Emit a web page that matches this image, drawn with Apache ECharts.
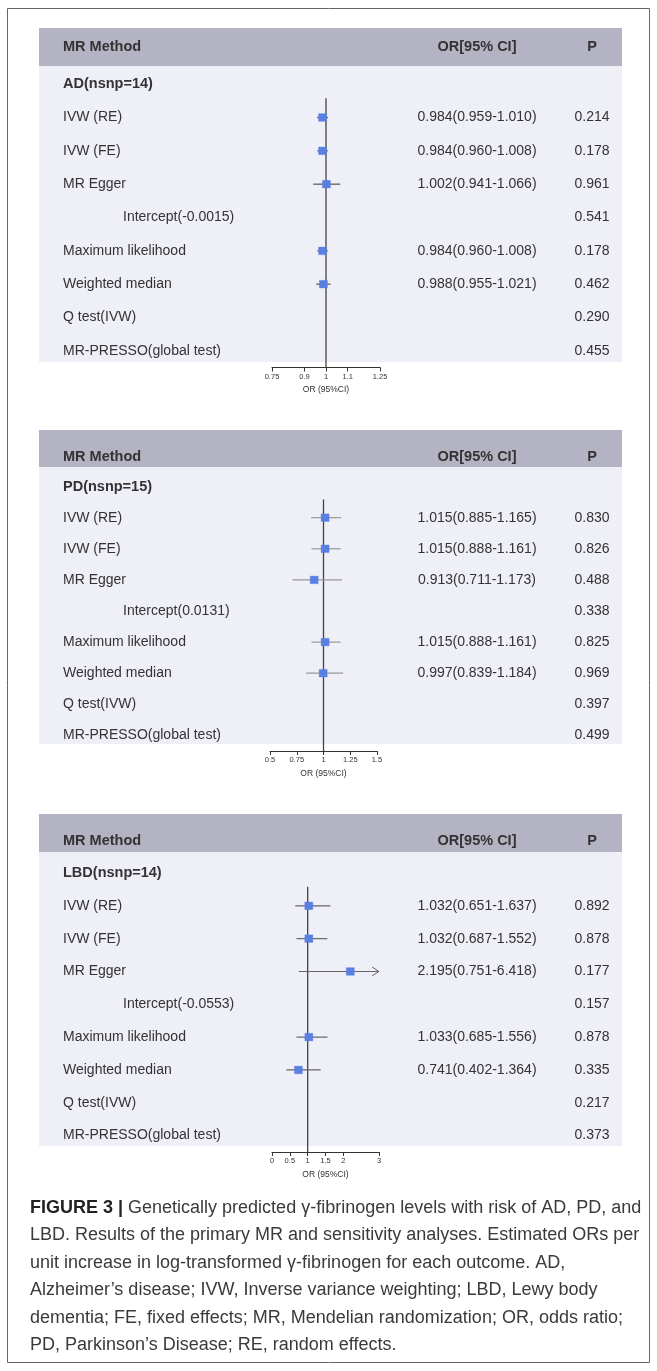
<!DOCTYPE html>
<html><head><meta charset="utf-8">
<script src="https://cdn.jsdelivr.net/npm/echarts@6/dist/echarts.min.js"></script>
<style>html,body{margin:0;padding:0;background:#fff}#c{width:657px;height:1371px}</style>
</head><body><div id="c"></div>
<script>
// ---------- data ----------
const methods = ['IVW (RE)','IVW (FE)','MR Egger','Intercept','Maximum likelihood','Weighted median','Q test(IVW)','MR-PRESSO(global test)'];
const outcomes = ['AD','PD','LBD'];
const nsnp = [14,15,14];
const intercepts = ['-0.0015','0.0131','-0.0553'];

const adOR   = [0.984,0.984,1.002,null,0.984,0.988,null,null];
const adLow  = [0.959,0.960,0.941,null,0.960,0.955,null,null];
const adHigh = [1.010,1.008,1.066,null,1.008,1.021,null,null];
const adP    = ['0.214','0.178','0.961','0.541','0.178','0.462','0.290','0.455'];

const pdOR   = [1.015,1.015,0.913,null,1.015,0.997,null,null];
const pdLow  = [0.885,0.888,0.711,null,0.888,0.839,null,null];
const pdHigh = [1.165,1.161,1.173,null,1.161,1.184,null,null];
const pdP    = ['0.830','0.826','0.488','0.338','0.825','0.969','0.397','0.499'];

const lbdOR   = [1.032,1.032,2.195,null,1.033,0.741,null,null];
const lbdLow  = [0.651,0.687,0.751,null,0.685,0.402,null,null];
const lbdHigh = [1.637,1.552,6.418,null,1.556,1.364,null,null];
const lbdP    = ['0.892','0.878','0.177','0.157','0.878','0.335','0.217','0.373'];

const adTicks  = [0.75,0.9,1,1.1,1.25];
const pdTicks  = [0.5,0.75,1,1.25,1.5];
const lbdTicks = [0,0.5,1,1.5,2,3];

const captionLines = [
  'Genetically predicted γ-fibrinogen levels with risk of AD, PD, and',
  'LBD. Results of the primary MR and sensitivity analyses. Estimated ORs per',
  'unit increase in log-transformed γ-fibrinogen for each outcome. AD,',
  'Alzheimer’s disease; IVW, Inverse variance weighting; LBD, Lewy body',
  'dementia; FE, fixed effects; MR, Mendelian randomization; OR, odds ratio;',
  'PD, Parkinson’s Disease; RE, random effects.'
];

// ---------- layout ----------
const FONT = '"Liberation Sans", Arial, sans-serif';
const panels = [
  {or:adOR, lo:adLow, hi:adHigh, p:adP, ticks:adTicks, min:0.75, max:1.25,
   left:272, width:108, top:67.5, height:300, hdrTop:28, hdrBot:66, hdrText:47, bgBot:362, ci:'#555'},
  {or:pdOR, lo:pdLow, hi:pdHigh, p:pdP, ticks:pdTicks, min:0.5, max:1.5,
   left:270, width:107, top:471, height:280, hdrTop:430, hdrBot:467, hdrText:457, bgBot:744, ci:'#999'},
  {or:lbdOR, lo:lbdLow, hi:lbdHigh, p:lbdP, ticks:lbdTicks, min:0, max:3,
   left:272, width:107, top:856.6, height:295.4, hdrTop:814, hdrBot:852, hdrText:841, bgBot:1146, ci:'#666'}
];
const BOX_L = 39, BOX_R = 622, TEXT_X = 63, OR_X = 477, P_X = 592;
const ROW_FS = 14;

const grids = [], xAxes = [], yAxes = [], series = [], graphics = [];

graphics.push({type:'rect', z:-20, shape:{x:7.5, y:8.5, width:642, height:1354},
  style:{fill:'#fff', stroke:'#666', lineWidth:1}});

panels.forEach((P, k) => {
  const rowLabels = [outcomes[k] + '(nsnp=' + nsnp[k] + ')'].concat(
    methods.map(m => m === 'Intercept' ? 'Intercept(' + intercepts[k] + ')' : m));
  const orLabels = [''].concat(P.or.map((v, i) => v == null ? '' :
    v.toFixed(3) + '(' + P.lo[i].toFixed(3) + '-' + P.hi[i].toFixed(3) + ')'));
  const pLabels = [''].concat(P.p);
  const idx = rowLabels.map((_, i) => String(i));

  grids.push({left:P.left, width:P.width, top:P.top, height:P.height, containLabel:false});
  xAxes.push({
    type:'value', gridIndex:k, min:P.min, max:P.max,
    splitLine:{show:false},
    axisLine:{show:true, onZero:false, lineStyle:{color:'#333', width:1}},
    axisTick:{show:true, customValues:P.ticks, length:4, lineStyle:{color:'#333', width:1}},
    axisLabel:{customValues:P.ticks, fontSize:7.5, color:'#333', margin:5, fontFamily:FONT,
      formatter: v => String(v)},
    name:'OR (95%CI)', nameLocation:'middle', nameGap:18,
    nameTextStyle:{fontSize:8.5, color:'#333', fontFamily:FONT}
  });
  const base = {type:'category', gridIndex:k, data:idx, inverse:true,
    axisLine:{show:false}, axisTick:{show:false}, splitLine:{show:false}};
  yAxes.push(Object.assign({}, base, {position:'left',
    axisLabel:{interval:0, align:'left', margin:P.left - TEXT_X, fontSize:ROW_FS, color:'#333', fontFamily:FONT,
      formatter:(v, i) => i === 0 ? '{g|' + rowLabels[i] + '}' : (i === 4 ? '{n|' + rowLabels[i] + '}' : rowLabels[i]),
      rich:{g:{fontWeight:'bold', fontSize:14.5, color:'#333', fontFamily:FONT},
            n:{padding:[0,0,0,60], fontSize:ROW_FS, color:'#333', fontFamily:FONT}}}}));
  yAxes.push(Object.assign({}, base, {position:'right',
    axisLabel:{interval:0, align:'center', margin:OR_X - (P.left + P.width), fontSize:ROW_FS, color:'#333', fontFamily:FONT,
      formatter:(v, i) => orLabels[i]}}));
  yAxes.push(Object.assign({}, base, {position:'right',
    axisLabel:{interval:0, align:'center', margin:P_X - (P.left + P.width), fontSize:ROW_FS, color:'#333', fontFamily:FONT,
      formatter:(v, i) => pLabels[i]}}));
  yAxes.push({type:'value', gridIndex:k, min:0, max:rowLabels.length, inverse:true, show:false});

  // reference line at OR = 1
  series.push({type:'line', xAxisIndex:k, yAxisIndex:4*k+3, symbol:'none', silent:true, z:3,
    data:[[1, 0.92], [1, rowLabels.length]], lineStyle:{color:'#444', width:1.3}});

  // estimates with CI
  const pts = [];
  P.or.forEach((v, i) => { if (v != null) pts.push([v, i + 1, P.lo[i], P.hi[i]]); });
  series.push({type:'custom', xAxisIndex:k, yAxisIndex:4*k, z:5, silent:true,
    encode:{x:0, y:1}, data:pts,
    renderItem:(params, api) => {
      const y = api.value(1);
      const c = api.coord([api.value(0), y]);
      const lo = Math.max(api.value(2), P.min), hi = Math.min(api.value(3), P.max);
      const a = api.coord([lo, y]), b = api.coord([hi, y]);
      const children = [{type:'line', shape:{x1:a[0], y1:c[1], x2:b[0], y2:c[1]},
        style:{stroke:P.ci, lineWidth:1.2}}];
      if (api.value(3) > P.max) {
        children.push({type:'polyline', shape:{points:[[b[0]-7, c[1]-4.5],[b[0], c[1]],[b[0]-7, c[1]+4.5]]},
          style:{stroke:P.ci, lineWidth:1, fill:null}});
      }
      children.push({type:'rect', shape:{x:c[0]-4, y:c[1]-3.8, width:8, height:7.6},
        style:{fill:'#5a7fe3', stroke:'rgba(90,127,227,0.35)', lineWidth:1}});
      return {type:'group', children};
    }});

  // backgrounds & headers
  graphics.push({type:'rect', z:-10, shape:{x:BOX_L, y:P.hdrTop, width:BOX_R-BOX_L, height:P.hdrBot-P.hdrTop},
    style:{fill:'#b3b3c3'}});
  graphics.push({type:'rect', z:-10, shape:{x:BOX_L, y:P.hdrBot, width:BOX_R-BOX_L, height:P.bgBot-P.hdrBot},
    style:{fill:'#eeeff7'}});
  const hs = {font:'bold 14.5px ' + FONT, fill:'#333', textVerticalAlign:'middle'};
  graphics.push({type:'text', z:50, style:Object.assign({text:'MR Method', x:TEXT_X, y:P.hdrText, textAlign:'left'}, hs)});
  graphics.push({type:'text', z:50, style:Object.assign({text:'OR[95% CI]', x:OR_X, y:P.hdrText, textAlign:'center'}, hs)});
  graphics.push({type:'text', z:50, style:Object.assign({text:'P', x:P_X, y:P.hdrText, textAlign:'center'}, hs)});
});

// caption
const CAP_Y0 = 1208, CAP_DY = 27.4, CAP_FS = 18;
captionLines.forEach((t, i) => {
  const txt = i === 0 ? '{b|FIGURE 3 |} ' + t : t;
  graphics.push({type:'text', z:50, style:{text:txt, x:30, y:CAP_Y0 + i*CAP_DY, textVerticalAlign:'middle',
    font:CAP_FS + 'px ' + FONT, fill:'#3a3a3a',
    rich:{b:{fontWeight:'bold', fontSize:CAP_FS, fill:'#222', fontFamily:FONT}}}});
});

const chart = echarts.init(document.getElementById('c'), null, {renderer:'canvas'});
chart.setOption({
  animation:false, backgroundColor:'#fff',
  grid:grids, xAxis:xAxes, yAxis:yAxes, series:series, graphic:graphics
});
</script></body></html>
